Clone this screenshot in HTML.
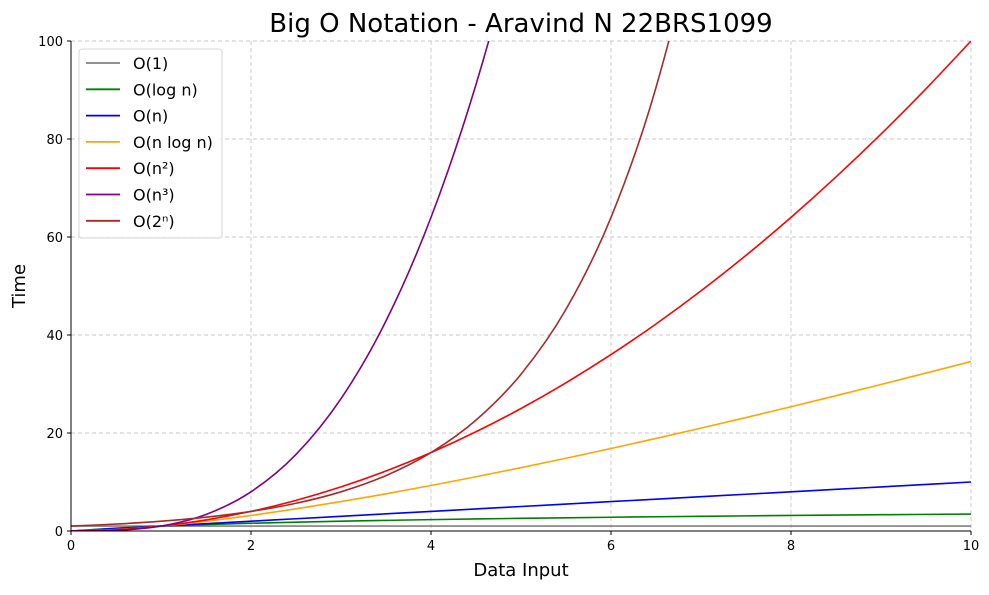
<!DOCTYPE html>
<html><head><meta charset="utf-8"><style>
body{margin:0;background:#fff;}
svg{font-family:"DejaVu Sans","Liberation Sans",sans-serif;}
</style></head><body>
<svg id="c" width="989" height="590" viewBox="0 0 989 590">
<defs><clipPath id="clip"><rect x="71" y="41" width="900" height="490"/></clipPath></defs>
<text x="521" y="32" text-anchor="middle" font-size="26" fill="#000">Big O Notation - Aravind N 22BRS1099</text>
<text x="521" y="576" text-anchor="middle" font-size="18">Data Input</text>
<text x="0" y="0" transform="translate(25,286) rotate(-90)" text-anchor="middle" font-size="18">Time</text>
<g id="grid"></g><g id="series" clip-path="url(#clip)"></g><g id="axes"></g><g id="legend"></g>
</svg>
<script>
const xs=[0,0.5,1,1.5,2,2.5,3,3.5,4,4.5,5,5.5,6,6.5,7,7.5,8,8.5,9,9.5,10];
const yConst=[1,1,1,1,1,1,1,1,1,1,1,1,1,1,1,1,1,1,1,1,1];
const yLog=[0,0.585,1,1.322,1.585,1.807,2,2.170,2.322,2.459,2.585,2.700,2.807,2.907,3,3.087,3.170,3.248,3.322,3.392,3.459];
const yLin=[0,0.5,1,1.5,2,2.5,3,3.5,4,4.5,5,5.5,6,6.5,7,7.5,8,8.5,9,9.5,10];
const yNLog=[0,0.29,1,1.98,3.17,4.52,6,7.59,9.29,11.07,12.92,14.85,16.84,18.89,21,23.15,25.36,27.61,29.9,32.23,34.59];
const ySq=[0,0.25,1,2.25,4,6.25,9,12.25,16,20.25,25,30.25,36,42.25,49,56.25,64,72.25,81,90.25,100];
const yCube=[0,0.125,1,3.375,8,15.625,27,42.875,64,91.125,125,166.4,216,274.6,343,421.9,512,614.1,729,857.4,1000];
const yExp=[1,1.414,2,2.828,4,5.657,8,11.31,16,22.63,32,45.25,64,90.51,128,181,256,362,512,724,1024];
const xTicks=[0,2,4,6,8,10];
const yTicks=[0,20,40,60,80,100];
const names=["O(1)","O(log n)","O(n)","O(n log n)","O(n²)","O(n³)","O(2ⁿ)"];
const colors=["gray","green","blue","orange","red","purple","brown"];
const allY=[yConst,yLog,yLin,yNLog,ySq,yCube,yExp];
const NS="http://www.w3.org/2000/svg";
const X=v=>71+v*90, Y=v=>531-v*4.9;
function mk(t,a,p){const e=document.createElementNS(NS,t);for(const k in a)e.setAttribute(k,a[k]);p.appendChild(e);return e;}
const grid=document.getElementById('grid'),axes=document.getElementById('axes'),ser=document.getElementById('series'),leg=document.getElementById('legend');
xTicks.forEach(t=>{
 const g=mk('line',{x1:X(t),x2:X(t),y1:41,y2:531,stroke:'#c8c8c8','stroke-dasharray':'4,3','stroke-width':0.9},grid);
 
 
 mk('line',{x1:X(t),x2:X(t),y1:531,y2:535,stroke:'#000'},axes);
 const tx=mk('text',{x:X(t),y:550,'text-anchor':'middle','font-size':13},axes);tx.textContent=t;
 
 
});
yTicks.forEach(t=>{
 const g=mk('line',{x1:71,x2:971,y1:Y(t),y2:Y(t),stroke:'#c8c8c8','stroke-dasharray':'4,3','stroke-width':0.9},grid);
 
 
 mk('line',{x1:67,x2:71,y1:Y(t),y2:Y(t),stroke:'#000'},axes);
 const tx=mk('text',{x:63,y:Y(t)+5,'text-anchor':'end','font-size':13},axes);tx.textContent=t;
 
 
});
const ax1=mk('line',{x1:71,x2:71,y1:41,y2:531,stroke:'#000'},axes);


const ax2=mk('line',{x1:71,x2:971,y1:531,y2:531,stroke:'#000'},axes);


function path(ys){
 const p=xs.map((x,i)=>[X(x),Y(Math.min(ys[i],3000))]);
 let d='M'+p[0][0]+','+p[0][1];
 for(let i=0;i<p.length-1;i++){
  const p0=p[Math.max(i-1,0)],p1=p[i],p2=p[i+1],p3=p[Math.min(i+2,p.length-1)];
  const c1=[p1[0]+(p2[0]-p0[0])/6,p1[1]+(p2[1]-p0[1])/6],c2=[p2[0]-(p3[0]-p1[0])/6,p2[1]-(p3[1]-p1[1])/6];
  d+=`C${c1[0]},${c1[1]} ${c2[0]},${c2[1]} ${p2[0]},${p2[1]}`;
 }
 return d;
}
allY.forEach((ys,i)=>{
 const l=mk('path',{d:path(ys),fill:'none',stroke:colors[i],'stroke-width':1.6},ser);
 
 
});
const box=mk('rect',{x:79,y:49,width:143,height:189,rx:3,fill:'#fff','fill-opacity':0.85,stroke:'#d6d6d6'},leg);


names.forEach((n,i)=>{
 const y=63+i*26.3;
 mk('line',{x1:86,x2:120,y1:y,y2:y,stroke:colors[i],'stroke-width':1.8},leg);
 const t=mk('text',{x:133,y:y+6,'font-size':16},leg);t.textContent=n;
 
 
});
</script>
</body></html>
